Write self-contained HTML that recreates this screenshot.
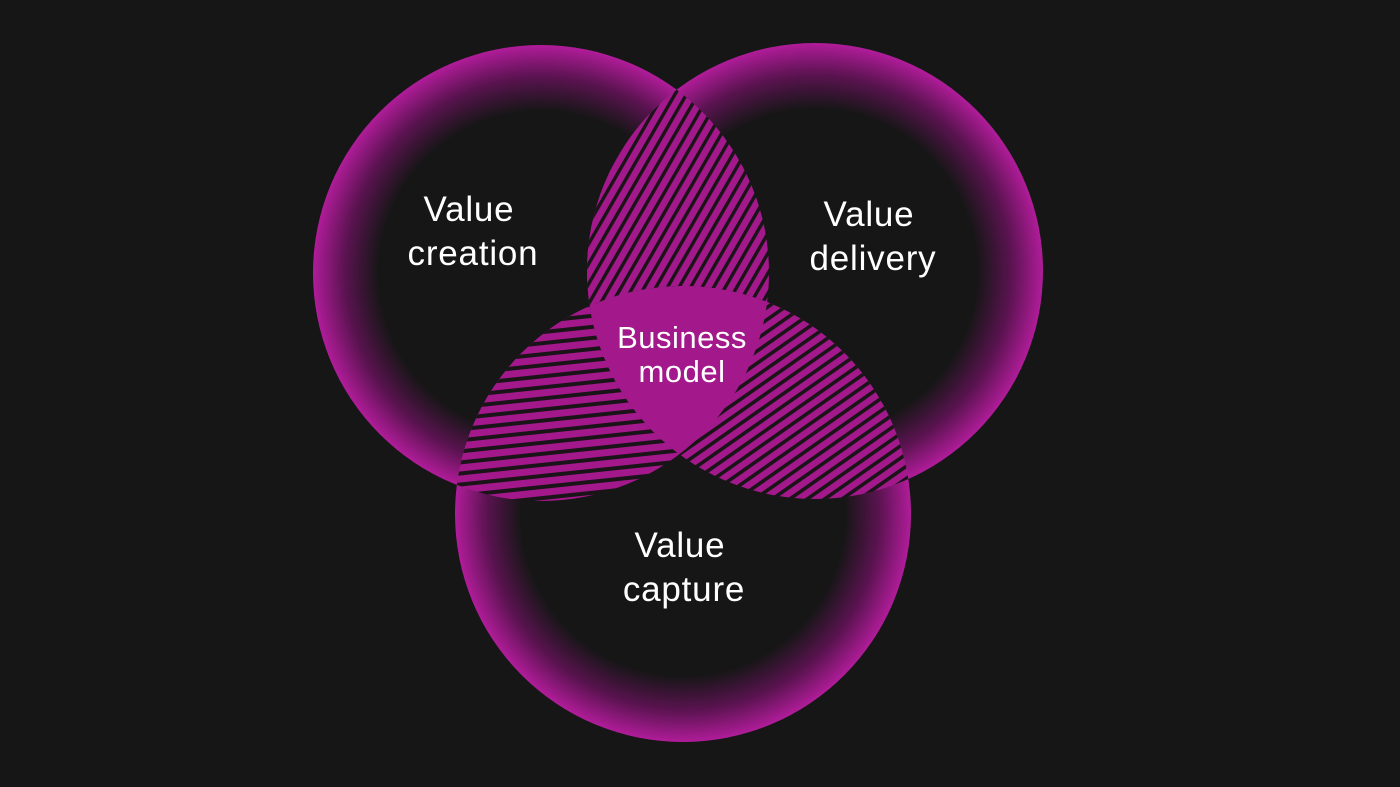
<!DOCTYPE html>
<html><head><meta charset="utf-8"><style>
html,body{margin:0;padding:0;background:#161616;}
svg{display:block}
text{font-family:"Liberation Sans",sans-serif;fill:#fff;text-anchor:middle}
</style></head><body>
<svg width="1400" height="787" viewBox="0 0 1400 787">
<defs>
<radialGradient id="g" cx="0.5" cy="0.5" r="0.5">
<stop offset="0" stop-color="#161616"/>
<stop offset="0.71" stop-color="#161616"/>
<stop offset="0.86" stop-color="#5a1350"/>
<stop offset="1" stop-color="#b01c99"/>
</radialGradient>
<clipPath id="cA"><circle cx="541" cy="273" r="228"/></clipPath>
<clipPath id="cB"><circle cx="815" cy="271" r="228"/></clipPath>
<clipPath id="cC"><circle cx="683" cy="514" r="228"/></clipPath>
<pattern id="pT" width="10" height="10" patternUnits="userSpaceOnUse" patternTransform="rotate(-60)">
<rect width="10" height="10" fill="#a3198c"/><rect width="10" height="3.4" fill="#1a1418"/></pattern>
<pattern id="pL" width="11" height="11" patternUnits="userSpaceOnUse" patternTransform="rotate(-6)">
<rect width="11" height="11" fill="#a3198c"/><rect width="11" height="4" fill="#1a1418"/></pattern>
<pattern id="pR" width="10" height="10" patternUnits="userSpaceOnUse" patternTransform="rotate(-35)">
<rect width="10" height="10" fill="#a3198c"/><rect width="10" height="3.6" fill="#1a1418"/></pattern>
</defs>
<rect width="1400" height="787" fill="#161616"/>
<circle cx="541" cy="273" r="228" fill="url(#g)"/>
<circle cx="815" cy="271" r="228" fill="url(#g)"/>
<circle cx="683" cy="514" r="228" fill="url(#g)"/>
<g clip-path="url(#cA)"><rect width="1400" height="787" fill="url(#pT)" clip-path="url(#cB)"/></g>
<g clip-path="url(#cA)"><rect width="1400" height="787" fill="url(#pL)" clip-path="url(#cC)"/></g>
<g clip-path="url(#cB)"><rect width="1400" height="787" fill="url(#pR)" clip-path="url(#cC)"/></g>
<g clip-path="url(#cA)"><g clip-path="url(#cB)"><rect width="1400" height="787" fill="#a3198c" clip-path="url(#cC)"/></g></g>
<g font-size="35" letter-spacing="0.8">
<text x="469" y="221">Value</text>
<text x="473" y="265">creation</text>
<text x="869" y="226">Value</text>
<text x="873" y="270">delivery</text>
<text x="680" y="557">Value</text>
<text x="684" y="601">capture</text>
</g>
<g font-size="31" letter-spacing="0.5">
<text x="682" y="348">Business</text>
<text x="682" y="382">model</text>
</g>
</svg>
</body></html>
